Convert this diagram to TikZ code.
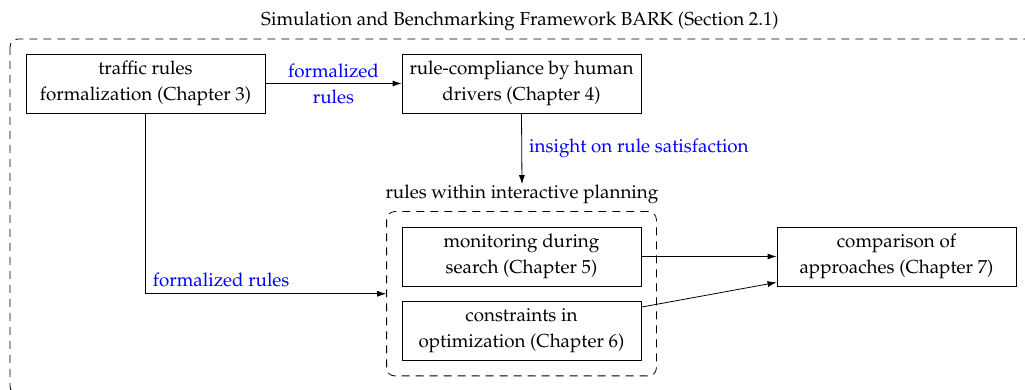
\documentclass[tikz,border=0pt]{standalone}
\usepackage[T1]{fontenc}
\usepackage{mathpazo}
\usetikzlibrary{arrows.meta,fit,calc}
\tikzset{
  chapter/.style={draw, minimum width=119.5pt, minimum height=29.5pt, align=center,
    inner sep=2pt, font=\fontsize{9.4}{13}\selectfont},
  flowlabel/.style={text=blue, font=\fontsize{9.4}{13}\selectfont, inner sep=0pt},
  plain/.style={font=\fontsize{9.4}{13}\selectfont, inner sep=0pt},
  conn/.style={-{Latex[length=4.5pt,width=3pt]}},
  groupbox/.style={draw, dash pattern=on 4pt off 3pt, rounded corners=4pt},
}
\begin{document}
\begin{tikzpicture}[x=0.5pt, y=-0.5pt]
\useasboundingbox (0,0) rectangle (1025,390);
\begin{scope}
\clip (0,0) rectangle (1025,390);

% framework title and outer frame
\node[plain] (title) at (520,21) {Simulation and Benchmarking Framework BARK (Section 2.1)};
\draw[groupbox] (10,39) rectangle (1050,394);

% chapter boxes
\node[chapter] (A) at (145.5,83.5) {traffic rules\\formalization (Chapter 3)};
\node[chapter] (B) at (521.5,83.5) {rule-compliance by human\\drivers (Chapter 4)};
\node[chapter] (C) at (521.5,256.5) {monitoring during\\search (Chapter 5)};
\node[chapter] (D) at (521.5,331) {constraints in\\optimization (Chapter 6)};
\node[chapter] (E) at (896.5,256.5) {comparison of\\approaches (Chapter 7)};

% interactive planning group
\node[groupbox, fit=(C)(D), inner sep=7.5pt] (G) {};
\node[plain] (P) at (522,194) {rules within interactive planning};

% connectors
\draw[conn] (A) -- (B) node[midway, flowlabel, align=center] {formalized\\rules};
\draw[conn] (B.south) -- (P.north) node[midway, flowlabel, anchor=west, xshift=3.5pt] {insight on rule satisfaction};
\draw[conn] (A.south) |- (G.west) node[pos=0.5, flowlabel, anchor=south west, xshift=3.5pt, yshift=3pt] {formalized rules};
\draw[conn] (C.east) -- (E.west);
\draw[conn] ([yshift=-3pt]D.north east) -- ([yshift=2pt]E.south west);
\end{scope}
\end{tikzpicture}
\end{document}
